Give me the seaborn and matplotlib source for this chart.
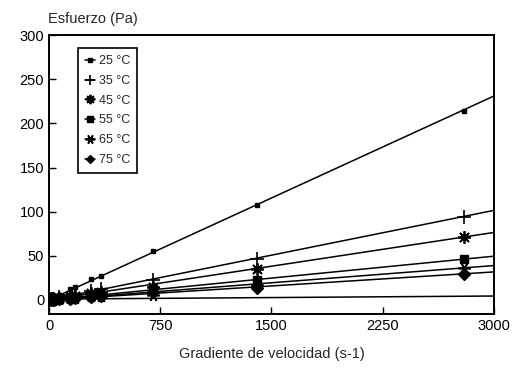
"""
Esfuerzo vs gradiente de velocidad a distintas temperaturas.
"""
import numpy as np
import pandas as pd
from matplotlib import pyplot as plt
from matplotlib.lines import Line2D
import seaborn as sns

# Data
shear = [14, 28, 35, 70, 140, 175, 280, 350, 700, 1400, 2800]
temps = ["25 °C", "35 °C", "45 °C", "55 °C", "65 °C", "75 °C"]
stress_25 = [1.5, 2.5, 3.0, 6.0, 12.0, 15.0, 24.0, 27.0, 56.0, 108.0, 214.0]
stress_35 = [0.8, 1.3, 1.6, 3.0, 5.5, 7.0, 10.5, 13.0, 23.0, 47.0, 94.0]
stress_45 = [0.6, 1.0, 1.2, 2.2, 4.0, 5.0, 8.0, 9.5, 15.0, 35.0, 71.0]
stress_55 = [0.4, 0.7, 0.8, 1.5, 2.5, 3.0, 5.0, 6.0, 12.0, 23.0, 46.5]
stress_65 = [0.3, 0.5, 0.6, 1.0, 2.0, 2.5, 4.0, 5.0, 6.0, 17.0, 36.0]
stress_75 = [0.3, 0.4, 0.5, 0.9, 1.6, 2.0, 3.2, 4.0, 9.0, 14.0, 29.5]

# Fitted lines (value at 0 and at 3000 s-1)
fit_x = [0, 3000]
fit_25 = [0.0, 231.0]
fit_35 = [0.0, 101.5]
fit_45 = [0.0, 76.5]
fit_55 = [0.0, 49.6]
fit_65 = [0.0, 39.0]
fit_75 = [0.0, 31.8]
fit_base = [1.0, 4.5]

series = [stress_25, stress_35, stress_45, stress_55, stress_65, stress_75]
fits = [fit_25, fit_35, fit_45, fit_55, fit_65, fit_75]
markers = ["s", "+", (8, 2, 0), "s", (6, 2, 90), "D"]
msizes = [3, 10, 9, 6, 9, 6]
mews = [1, 1.2, 1.3, 1, 1.2, 1]

pts = pd.DataFrame(
    [(x, y, t) for ys, t in zip(series, temps) for x, y in zip(shear, ys)],
    columns=["x", "y", "temp"],
)

sns.set_style("ticks")
plt.rcParams["font.family"] = ["Liberation Sans", "DejaVu Sans"]

fig, ax = plt.subplots(figsize=(5.27, 3.78), dpi=100)
fig.subplots_adjust(left=0.093, right=0.937, top=0.907, bottom=0.169)

# Fitted lines
for fy in fits + [fit_base]:
    sns.lineplot(x=fit_x, y=fy, color="black", lw=1.1, ax=ax, zorder=2)

# Measured points
for t, m, ms, mw in zip(temps, markers, msizes, mews):
    d = pts[pts["temp"] == t]
    ax.plot(d["x"], d["y"], ls="none", marker=m, ms=ms, mew=mw,
            color="black", zorder=3)

ax.set_xlim(0, 3000)
ax.set_ylim(-16, 300)
ax.set_xticks([0, 750, 1500, 2250, 3000])
ax.set_yticks([0, 50, 100, 150, 200, 250, 300])
ax.tick_params(direction="in", length=5, width=1, labelsize=10.5, colors="black")
for s in ax.spines.values():
    s.set_linewidth(1.4)
    s.set_color("black")
ax.set_xlabel("Gradiente de velocidad (s-1)", fontsize=10.5, labelpad=10)
ax.set_ylabel("")
fig.text(0.091, 0.93, "Esfuerzo (Pa)", fontsize=10.5, ha="left", va="bottom")

handles = [
    Line2D([], [], color="black", lw=1.1, marker=m, ms=ms * 0.75, mew=mw)
    for m, ms, mw in zip(markers, msizes, mews)
]
leg = ax.legend(handles, temps, loc="upper left", bbox_to_anchor=(0.065, 0.955),
                fontsize=9, handlelength=0.8, handletextpad=0.25,
                labelspacing=0.62, borderpad=0.6, borderaxespad=0,
                fancybox=False, edgecolor="black", framealpha=1)
leg.get_frame().set_linewidth(1.2)

plt.savefig("out.png", dpi=100)
